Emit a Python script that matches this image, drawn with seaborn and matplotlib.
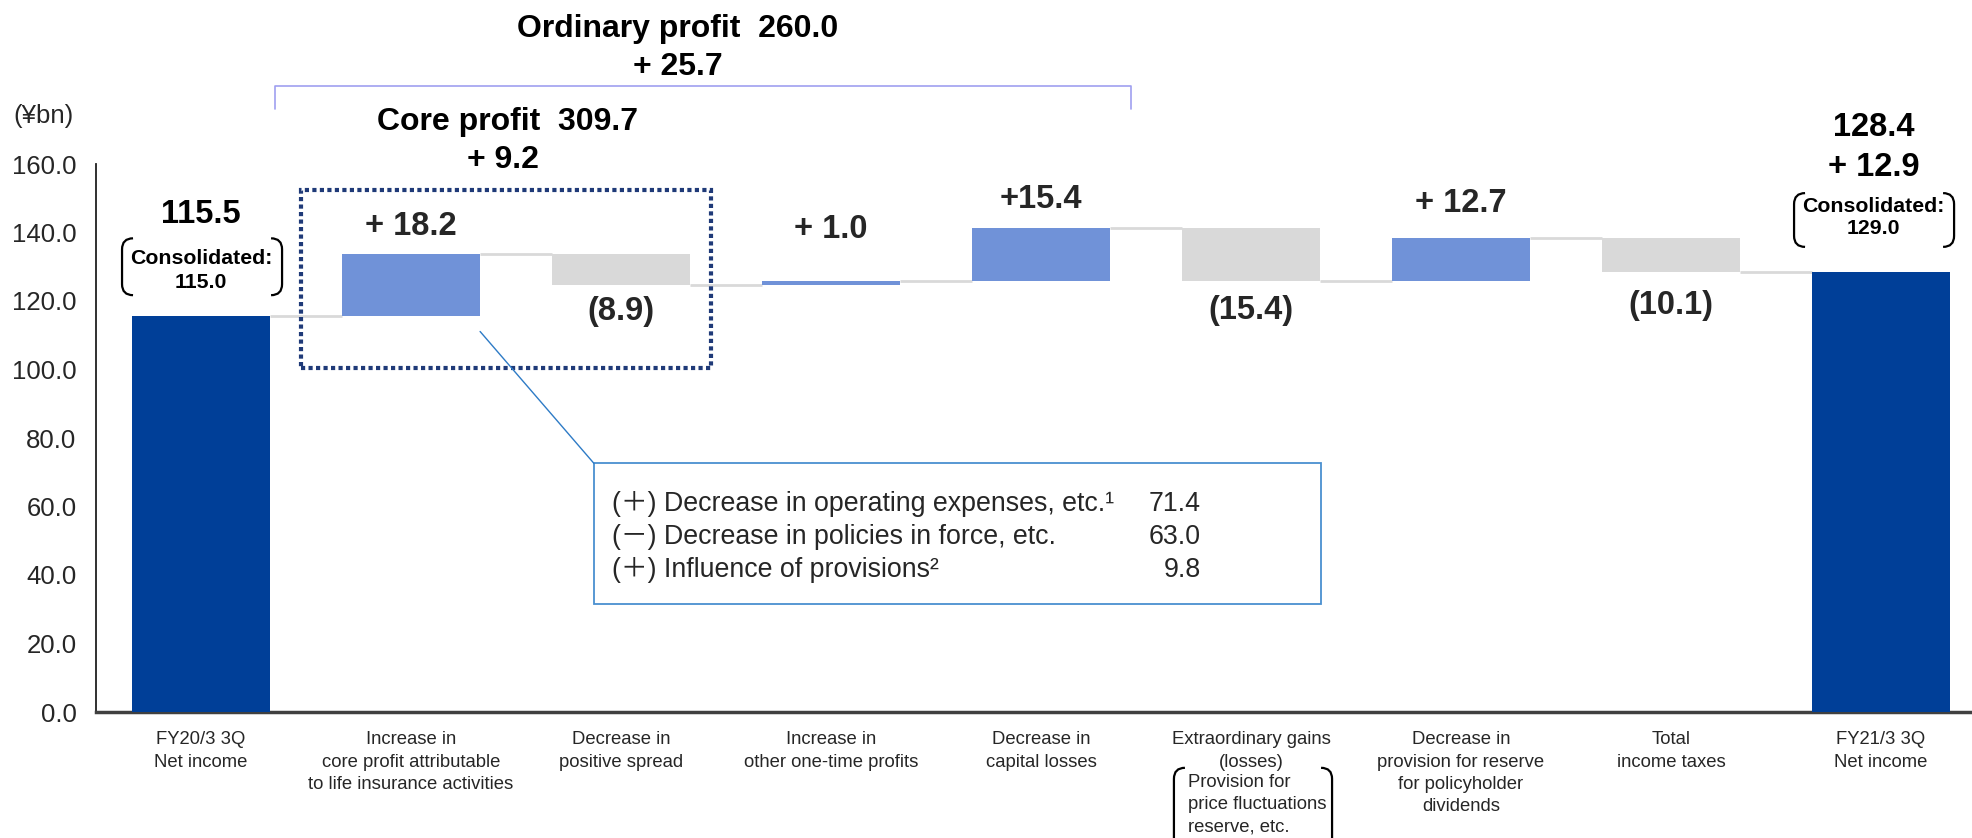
import matplotlib
matplotlib.use("Agg")
import matplotlib.pyplot as plt
from matplotlib import font_manager as fm
from matplotlib.path import Path
from matplotlib.patches import PathPatch, Rectangle
from matplotlib.ticker import FormatStrFormatter
from matplotlib.transforms import IdentityTransform
import numpy as np
import pandas as pd
import seaborn as sns

# --- data (¥bn) ---
categories = [
    "FY20/3 3Q\nNet income",
    "Increase in\ncore profit attributable\nto life insurance activities",
    "Decrease in\npositive spread",
    "Increase in\nother one-time profits",
    "Decrease in\ncapital losses",
    "Extraordinary gains\n(losses)",
    "Decrease in\nprovision for reserve\nfor policyholder\ndividends",
    "Total\nincome taxes",
    "FY21/3 3Q\nNet income",
]
start_value = 115.5
changes = [18.2, -8.9, 1.0, 15.4, -15.4, 12.7, -10.1]
end_value = 128.4
change_labels = ["+ 18.2", "(8.9)", "+ 1.0", "+15.4", "(15.4)", "+ 12.7", "(10.1)"]

consolidated_start = 115.0
consolidated_end = 129.0
net_change = "+ 12.9"
ordinary_profit = ("Ordinary profit  260.0", "+ 25.7")
core_profit = ("Core profit  309.7", "+ 9.2")
extra_note = "Provision for\nprice fluctuations\nreserve, etc."

callout_items = [
    "(＋) Decrease in operating expenses, etc.¹",
    "(－) Decrease in policies in force, etc.",
    "(＋) Influence of provisions²",
]
callout_values = [71.4, 63.0, 9.8]

y_ticks = [0, 20, 40, 60, 80, 100, 120, 140, 160]

COL_TOTAL = "#003F98"
COL_UP = "#7092D8"
COL_DOWN = "#D9D9D9"


def pick(names):
    for n in names:
        try:
            fm.findfont(fm.FontProperties(family=n), fallback_to_default=False)
            return n
        except ValueError:
            pass
    return "DejaVu Sans"


sns.set_theme(style="white")
REG = pick(["Liberation Sans", "Arial"])
plt.rcParams["font.family"] = [REG, "Noto Sans CJK JP", "DejaVu Sans"]

# waterfall geometry
levels = start_value + np.cumsum(changes)
prev = np.concatenate([[start_value], levels[:-1]])
bottoms = np.concatenate([[0], np.minimum(prev, levels), [0]])
tops = np.concatenate([[start_value], np.maximum(prev, levels), [end_value]])
colors = [COL_TOTAL] + [COL_UP if c > 0 else COL_DOWN for c in changes] + [COL_TOTAL]

df = pd.DataFrame({"step": categories, "top": tops, "bottom": bottoms})

W, H = 1972, 838
fig = plt.figure(figsize=(W / 100, H / 100), dpi=100)
step_px = 210
ax = fig.add_axes([96 / W, 1 - 712 / H, 8.93 * step_px / W, 548 / H])

bar_w = 0.66
sns.barplot(data=df, x="step", y="top", hue="step", palette=colors, legend=False,
            width=bar_w, saturation=1, ax=ax, zorder=3)
for patch, b, t in zip(ax.patches, bottoms, tops):
    patch.set_y(b)
    patch.set_height(t - b)
    patch.set_edgecolor("none")

# connectors
run = np.concatenate([[start_value], levels])
ax.hlines(run, np.arange(len(run)) + bar_w / 2, np.arange(len(run)) + 1 - bar_w / 2,
          color="#D9D9D9", lw=2, zorder=2)

ax.set_xlim(-0.5, 8.43)
ax.set_ylim(0, 160)
ax.set_yticks(y_ticks)
ax.yaxis.set_major_formatter(FormatStrFormatter("%.1f"))
ax.set_xticks(range(len(categories)))
ax.set_xticklabels(categories, fontsize=13.3, color="#262626", linespacing=1.4)
ax.tick_params(axis="x", length=0, pad=14)
ax.tick_params(axis="y", length=0, pad=14, labelsize=18.5, labelcolor="#262626")
ax.set_xlabel("")
ax.set_ylabel("")
for s in ["top", "right"]:
    ax.spines[s].set_visible(False)
ax.spines["left"].set_color("#202020")
ax.spines["left"].set_linewidth(1.3)
ax.spines["bottom"].set_color("#404040")
ax.spines["bottom"].set_linewidth(2.5)

fig.text(13 / W, 1 - 116 / H, "(¥bn)", fontsize=18.5, va="center", ha="left", color="#262626")

# change labels
gaps = [28, 27, 52, 29, 29, 34, 33]
for i, (c, lab) in enumerate(zip(changes, change_labels)):
    xi = i + 1
    if c > 0:
        y, sign = tops[xi], 1
    else:
        y, sign = bottoms[xi], -1
    ax.annotate(lab, (xi, y), xytext=(0, sign * gaps[i] * 0.72), textcoords="offset points",
                ha="center", va="center", fontsize=23.5, fontweight="bold", annotation_clip=False)

bold = dict(ha="center", va="center", fontweight="bold", color="black", clip_on=False)
ax.text(0, 145.2, f"{start_value:.1f}", fontsize=23.5, **bold)
ax.text(0, 132.3, "Consolidated:", fontsize=15.3, **bold)
ax.text(0, 125.5, f"{consolidated_start:.1f}", fontsize=15.3, **bold)
ax.text(7.965, 170.6, f"{end_value:.1f}", fontsize=23.5, **bold)
ax.text(7.965, 158.9, net_change, fontsize=23.5, **bold)
ax.text(7.965, 147.5, "Consolidated:", fontsize=15.3, **bold)
ax.text(7.965, 141.1, f"{consolidated_end:.1f}", fontsize=15.3, **bold)

ax.text(2.27, 199.5, ordinary_profit[0], fontsize=23, **bold)
ax.text(2.27, 188.2, ordinary_profit[1], fontsize=23, **bold)
ax.text(1.46, 172.4, core_profit[0], fontsize=23, **bold)
ax.text(1.44, 161.2, core_profit[1], fontsize=23, **bold)

# ordinary profit bracket
ax.plot([0.35, 0.35, 4.43, 4.43], [176.1, 182.7, 182.7, 176.1], color="#9FA0F0", lw=1.2, clip_on=False)

# core profit dotted box
ax.add_patch(Rectangle((0.476, 100.5), 2.43 - 0.476, 52.0, fill=False, ec="#1F3A78", lw=3,
                       ls=(0, (1, 0.8)), clip_on=False, zorder=4))

# callout
ax.add_patch(Rectangle((1.871, 31.5), 5.333 - 1.871, 72.6 - 31.5, fill=True, fc="white",
                       ec="#4A90D0", lw=1.3, clip_on=False, zorder=5))
ax.plot([1.329, 1.871], [111.1, 72.6], color="#2E7BC6", lw=1, zorder=5)
for k, (item, val) in enumerate(zip(callout_items, callout_values)):
    yy = 60.6 - k * 9.5
    ax.text(1.957, yy, item, fontsize=19.3, va="center", ha="left", zorder=6)
    ax.text(4.762, yy, f"{val:.1f}", fontsize=19.3, va="center", ha="right", zorder=6)

# extraordinary note below axis
ax.text(4.70, -27.15, extra_note, fontsize=13.3, color="#262626", ha="left", va="center",
        linespacing=1.4, clip_on=False)


def paren_pair(x0, x1, y0, y1, r=11, lw=1.6):
    (px0, py0), (px1, py1) = ax.transData.transform([(x0, y0), (x1, y1)])
    for side, px in ((1, px0), (-1, px1)):
        verts = [(px + side * r, py1), (px, py1), (px, py1 - r), (px, py0 + r), (px, py0), (px + side * r, py0)]
        codes = [Path.MOVETO, Path.CURVE3, Path.CURVE3, Path.LINETO, Path.CURVE3, Path.CURVE3]
        fig.add_artist(PathPatch(Path(verts, codes), fill=False, lw=lw, ec="black",
                                 transform=IdentityTransform(), clip_on=False))


paren_pair(-0.376, 0.386, 121.7, 138.3)
paren_pair(7.586, 8.348, 135.8, 151.5)
paren_pair(4.633, 5.386, -40.0, -16.3)

fig.savefig("out.png", dpi=100)
